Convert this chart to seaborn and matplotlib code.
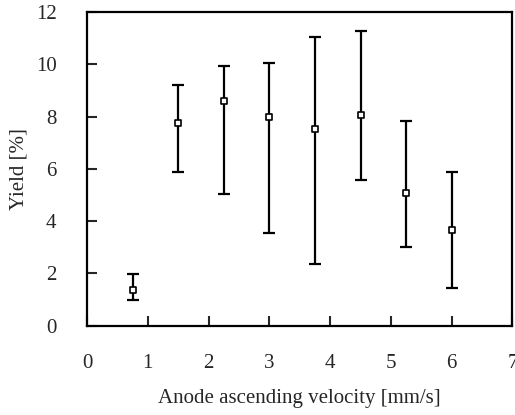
import numpy as np
import pandas as pd
import matplotlib
matplotlib.use("Agg")
import matplotlib.pyplot as plt
import seaborn as sns

# --- DATA ---
velocity = [0.75, 1.5, 2.25, 3.0, 3.75, 4.5, 5.25, 6.0]
yield_mean = [1.36, 7.75, 8.61, 7.99, 7.52, 8.08, 5.09, 3.68]
yield_low = [0.98, 5.88, 5.05, 3.55, 2.38, 5.56, 3.02, 1.45]
yield_high = [1.97, 9.21, 9.95, 10.04, 11.03, 11.27, 7.85, 5.88]

x_ticks = [0, 1, 2, 3, 4, 5, 6, 7]
y_ticks = [0, 2, 4, 6, 8, 10, 12]

df = pd.DataFrame({"velocity": velocity, "yield": yield_mean,
                   "low": yield_low, "high": yield_high})

sns.set_style("ticks")
plt.rcParams["font.family"] = ["Liberation Serif", "DejaVu Serif"]

fig = plt.figure(figsize=(5.15, 4.15), dpi=100)
ax = fig.add_axes([0.169, 0.215, 0.826, 0.756])

# asymmetric error bars
yerr = np.array([df["yield"] - df["low"], df["high"] - df["yield"]])
ax.errorbar(df["velocity"], df["yield"], yerr=yerr, fmt="none",
            ecolor="black", elinewidth=1.6, capsize=4, capthick=1.6, zorder=2)
sns.scatterplot(data=df, x="velocity", y="yield", marker="s", s=18,
                facecolor="white", edgecolor="black", linewidth=1.2,
                ax=ax, zorder=3)

ax.set_xlim(0, 7)
ax.set_ylim(0, 12)
ax.set_xticks(x_ticks)
ax.set_yticks(y_ticks)
ax.tick_params(direction="in", length=7, width=1.5, labelsize=15)
ax.tick_params(axis="x", pad=20)
ax.tick_params(axis="y", pad=22)
for sp in ax.spines.values():
    sp.set_linewidth(1.6)
    sp.set_color("black")

ax.set_xlabel("Anode ascending velocity [mm/s]", fontsize=15, labelpad=12)
ax.set_ylabel("Yield [%]", fontsize=15, labelpad=5)

fig.savefig("out.png", dpi=100)
